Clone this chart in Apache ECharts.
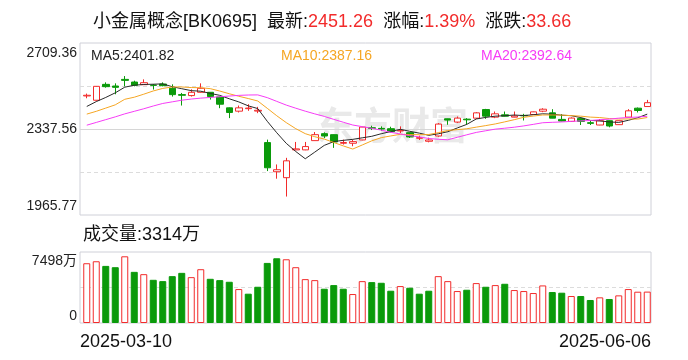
<!DOCTYPE html>
<html><head><meta charset="utf-8">
<script src="https://cdn.jsdelivr.net/npm/echarts@6/dist/echarts.min.js"></script>
<style>html,body{margin:0;padding:0;background:#fff}#c{width:688px;height:360px}</style>
</head><body><div id="c"></div>
<script>
const dates = [
 '2025-03-10','2025-03-11','2025-03-12','2025-03-13','2025-03-14','2025-03-17','2025-03-18','2025-03-19','2025-03-20','2025-03-21',
 '2025-03-24','2025-03-25','2025-03-26','2025-03-27','2025-03-28','2025-03-31','2025-04-01','2025-04-02','2025-04-03','2025-04-07',
 '2025-04-08','2025-04-09','2025-04-10','2025-04-11','2025-04-14','2025-04-15','2025-04-16','2025-04-17','2025-04-18','2025-04-21',
 '2025-04-22','2025-04-23','2025-04-24','2025-04-25','2025-04-28','2025-04-29','2025-04-30','2025-05-06','2025-05-07','2025-05-08',
 '2025-05-09','2025-05-12','2025-05-13','2025-05-14','2025-05-15','2025-05-16','2025-05-19','2025-05-20','2025-05-21','2025-05-22',
 '2025-05-23','2025-05-26','2025-05-27','2025-05-28','2025-05-29','2025-05-30','2025-06-03','2025-06-04','2025-06-05','2025-06-06'];
const opens = [2480.5,2461.9,2530.6,2523.4,2552.1,2540.6,2529.2,2527.7,2532.0,2513.4,
 2486.2,2482.0,2496.3,2496.3,2476.2,2429.0,2414.7,2425.5,2415.0,2278.8,
 2152.8,2127.1,2247.3,2247.3,2287.3,2317.4,2313.1,2276.0,2275.9,2290.2,
 2343.1,2340.3,2338.9,2329.0,2321.7,2297.4,2284.5,2307.4,2381.8,2367.5,
 2380.2,2384.5,2421.7,2388.8,2398.8,2388.8,2396.5,2400.2,2414.6,2407.4,
 2379.1,2370.5,2383.4,2364.8,2354.8,2373.5,2356.3,2388.9,2427.6,2434.7];
const closes = [2483.4,2522.0,2520.6,2517.7,2547.8,2526.3,2537.8,2526.3,2524.9,2486.2,
 2483.4,2496.3,2513.4,2477.7,2444.7,2409.0,2429.0,2428.1,2418.5,2170.0,
 2161.4,2200.0,2251.6,2261.6,2313.1,2307.4,2281.6,2279.0,2283.0,2346.0,
 2340.3,2337.4,2326.0,2331.7,2303.1,2300.2,2290.2,2358.9,2376.1,2384.6,
 2377.4,2407.4,2393.1,2403.1,2393.0,2393.8,2394.6,2411.7,2423.1,2384.5,
 2372.0,2384.8,2370.5,2361.9,2373.3,2350.6,2373.5,2416.14,2417.60,2451.26];
const lows = [2470.5,2460.0,2516.3,2487.7,2522.0,2522.0,2527.7,2508.1,2522.0,2477.7,
 2439.0,2477.7,2495.0,2464.8,2427.6,2384.6,2409.0,2416.1,2406.1,2155.7,
 2122.7,2045.5,2245.8,2246.0,2287.0,2298.8,2255.9,2270.2,2263.0,2289.0,
 2333.1,2330.2,2323.1,2320.2,2298.8,2290.2,2280.0,2304.0,2356.0,2363.2,
 2355.9,2381.6,2381.6,2384.5,2392.0,2388.0,2374.5,2399.0,2410.3,2384.0,
 2371.0,2370.0,2354.8,2354.8,2354.0,2344.8,2355.5,2388.0,2409.0,2434.0];
const highs = [2490.6,2523.0,2539.2,2534.9,2566.4,2546.3,2552.1,2532.0,2539.2,2530.6,
 2493.4,2509.1,2534.9,2497.5,2477.5,2430.5,2439.0,2444.7,2433.3,2291.6,
 2184.3,2212.9,2281.6,2281.6,2324.5,2323.1,2314.0,2291.6,2291.6,2347.0,
 2351.7,2348.9,2347.4,2348.9,2322.5,2308.8,2300.0,2363.0,2382.5,2391.8,
 2384.5,2410.3,2424.6,2413.1,2413.1,2413.1,2403.1,2413.0,2427.4,2423.1,
 2402.0,2387.7,2387.7,2373.4,2380.5,2374.9,2374.5,2423.3,2430.4,2463.4];
const volumes = [6310,6520,6031,5891,7044,5401,5157,4562,4422,4947,
 5296,4842,5681,4667,4527,4353,3583,3094,3828,6345,
 6835,6730,5891,4632,4527,3618,4003,3618,3059,4422,
 4318,4248,3409,3898,3723,3094,3409,4947,4422,3374,
 3513,4213,3828,4003,4143,3479,3374,3164,3968,3269,
 3199,2849,2849,2430,2709,2535,2919,3583,3304,3314];
// MA values before enough history exists in view
const ma5Lead = [2435,2456,2474,2494];
const ma10Lead = [2402,2414,2428,2442,2466,2475,2488,2502,2513];
const ma20Lead = [2354,2366,2378,2390,2403,2414,2425,2437,2448,2455,2462,2467,2471,2474,2477,2480,2483,2484.5,2485];
const priceTicks = ['1965.77','','2337.56','','2709.36'];
const volTicks = ['0','','7498万'];
const priceMin = 1965.77, priceMax = 2709.36, volMax = 7498;
const maLabels = ['MA5:2401.82','MA10:2387.16','MA20:2392.64'];

const RED = '#f22b2b', GREEN = '#0a9a0a';
const C5 = '#2a2a2a', C10 = '#f5a623', C20 = '#f63cf6';
const FONT = '"Liberation Sans", "Noto Sans CJK SC", Arial, sans-serif';

function ma(n, lead){
  return closes.map((c,i)=>{
    if (i < n-1) return lead[i];
    let s=0; for(let k=i-n+1;k<=i;k++) s+=closes[k];
    return +(s/n).toFixed(2);
  });
}
const kData = dates.map((d,i)=>[opens[i],closes[i],lows[i],highs[i]]);
const volData = volumes.map((v,i)=>{
  const up = i===0 ? closes[i]>=opens[i] : closes[i]>=closes[i-1];
  return {value:v, itemStyle: up ? {color:'#fff',borderColor:RED,borderWidth:1} : {color:GREEN,borderColor:GREEN,borderWidth:1}};
});

const chart = echarts.init(document.getElementById('c'));
const border = '#cfd0d8';
chart.setOption({
  animation:false,
  title:{
    left:88, top:8,
    text:'{a|小金属概念[BK0695]  最新:}{r|2451.26}{a|  涨幅:}{r|1.39%}{a|  涨跌:}{r|33.66}',
    textStyle:{fontWeight:'normal',rich:{
      a:{fontSize:18,color:'#111',fontFamily:FONT,fontWeight:'normal'},
      r:{fontSize:18,color:RED,fontFamily:FONT,fontWeight:'normal'}
    }}
  },
  graphic:[
    {type:'text',left:316,top:106,z:0,silent:true,style:{text:'东方财富',font:'bold 38px "Noto Sans CJK SC"',fill:'#e9e9e9'}},
    {type:'text',left:91,top:49,style:{text:maLabels[0],font:'14px '+FONT,fill:'#222'}},
    {type:'text',left:281,top:49,style:{text:maLabels[1],font:'14px '+FONT,fill:C10}},
    {type:'text',left:481,top:49,style:{text:maLabels[2],font:'14px '+FONT,fill:C20}},
    {type:'text',left:83,top:226,style:{text:'成交量:3314万',font:'18px '+FONT,fill:'#111'}}
  ],
  grid:[
    {left:82,top:43,width:570,height:172,show:false},
    {left:80,top:43,width:571,height:172,show:true,borderColor:border,borderWidth:1,backgroundColor:'transparent'},
    {left:82,top:252,width:570,height:71,show:false},
    {left:80,top:252,width:571,height:71,show:true,borderColor:border,borderWidth:1,backgroundColor:'transparent'}
  ],
  xAxis:[
    {type:'category',gridIndex:0,data:dates,boundaryGap:true,show:false},
    {type:'category',gridIndex:1,data:dates,boundaryGap:false,show:false},
    {type:'category',gridIndex:2,data:dates,boundaryGap:true,show:false},
    {type:'category',gridIndex:3,data:dates,boundaryGap:false,
      axisLine:{show:false},axisTick:{show:false},splitLine:{show:false},
      axisLabel:{show:true,interval:(i)=>i===0||i===dates.length-1,showMinLabel:true,showMaxLabel:true,
        alignMinLabel:'left',alignMaxLabel:'right',margin:10,fontSize:18,color:'#111',fontFamily:FONT}}
  ],
  yAxis:[
    {type:'value',gridIndex:0,min:priceMin,max:priceMax,show:false,splitLine:{show:false}},
    {type:'value',gridIndex:1,min:0,max:4,interval:1,
      axisLine:{show:false},axisTick:{show:false},
      splitLine:{show:true,lineStyle:{type:[4,3],color:['rgba(0,0,0,0)','#dcdcdc','rgba(0,0,0,0)','#dcdcdc','rgba(0,0,0,0)']}},
      axisLabel:{show:true,formatter:(v)=>priceTicks[Math.round(v)]||'',fontSize:14,color:'#222',fontFamily:FONT,margin:3,
        verticalAlignMinLabel:'bottom',verticalAlignMaxLabel:'top',padding:[3,0,2,0]}},
    {type:'value',gridIndex:1,min:0,max:2,interval:1,show:true,axisLine:{show:false},axisTick:{show:false},axisLabel:{show:false},
      splitLine:{show:true,lineStyle:{type:'solid',color:['rgba(0,0,0,0)','#d6d6d6','rgba(0,0,0,0)']}}},
    {type:'value',gridIndex:2,min:0,max:volMax,show:false,splitLine:{show:false}},
    {type:'value',gridIndex:3,min:0,max:2,interval:1,
      axisLine:{show:false},axisTick:{show:false},
      splitLine:{show:true,lineStyle:{type:[4,3],color:['rgba(0,0,0,0)','#dcdcdc','rgba(0,0,0,0)']}},
      axisLabel:{show:true,formatter:(v)=>volTicks[Math.round(v)]||'',fontSize:14,color:'#222',fontFamily:FONT,margin:3,
        verticalAlignMinLabel:'bottom',verticalAlignMaxLabel:'top',padding:[2,0,0,0]}}
  ],
  series:[
    {type:'candlestick',xAxisIndex:0,yAxisIndex:0,data:kData,barWidth:7,z:3,
      itemStyle:{color:'#fff',color0:GREEN,borderColor:RED,borderColor0:GREEN,borderWidth:1}},
    {type:'line',xAxisIndex:0,yAxisIndex:0,data:ma(5,ma5Lead),showSymbol:false,z:4,lineStyle:{width:1,color:C5},itemStyle:{color:C5}},
    {type:'line',xAxisIndex:0,yAxisIndex:0,data:ma(10,ma10Lead),showSymbol:false,z:4,lineStyle:{width:1,color:C10},itemStyle:{color:C10}},
    {type:'line',xAxisIndex:0,yAxisIndex:0,data:ma(20,ma20Lead),showSymbol:false,z:4,lineStyle:{width:1,color:C20},itemStyle:{color:C20}},
    {type:'bar',xAxisIndex:2,yAxisIndex:3,data:volData,barWidth:7}
  ]
});
</script></body></html>
